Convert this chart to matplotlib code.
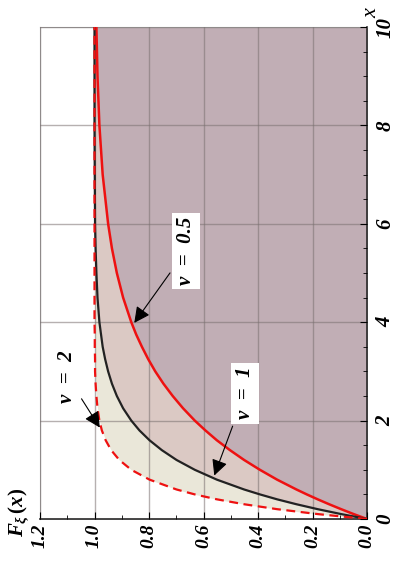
import numpy as np
import matplotlib
matplotlib.use("Agg")
import matplotlib.pyplot as plt
from matplotlib.ticker import MultipleLocator

plt.rcParams['font.family'] = ['Liberation Serif', 'DejaVu Serif']
plt.rcParams['mathtext.fontset'] = 'custom'
plt.rcParams['mathtext.it'] = 'Liberation Serif:italic:bold'
plt.rcParams['mathtext.rm'] = 'Liberation Serif:bold'

# x values and F(x) for nu = 0.5, 1, 2
x = [0, 0.1, 0.2, 0.3, 0.4, 0.5, 0.6, 0.8, 1.0, 1.2, 1.4, 1.6, 1.8, 2.0,
     2.25, 2.5, 2.75, 3.0, 3.25, 3.5, 3.75, 4.0, 4.5, 5.0, 5.5, 6.0, 7.0,
     8.0, 9.0, 10.0]
F_05 = [0, .049, .095, .139, .181, .221, .259, .330, .393, .451, .503, .551,
        .593, .632, .675, .713, .747, .777, .803, .826, .847, .865, .895,
        .918, .936, .950, .970, .982, .989, .993]
F_1 = [0, .095, .181, .259, .330, .393, .451, .551, .632, .699, .753, .798,
       .835, .865, .895, .918, .936, .950, .961, .970, .976, .982, .989,
       .993, .996, .998, .999, 1.0, 1.0, 1.0]
F_2 = [0, .181, .330, .451, .551, .632, .699, .798, .865, .909, .939, .959,
       .973, .982, .989, .993, .996, .998, .998, .999, .999, 1.0, 1.0, 1.0,
       1.0, 1.0, 1.0, 1.0, 1.0, 1.0]

fig = plt.figure(figsize=(3.94, 5.62), dpi=100)
ax = fig.add_axes([40/394, 43/562, 327/394, 492/562])

ax.fill_betweenx(x, 0, F_05, color='#C1AEB5', lw=0, zorder=0)
ax.fill_betweenx(x, F_05, F_1, color='#DBC9C4', lw=0, zorder=0)
ax.fill_betweenx(x, F_1, F_2, color='#EAE7D9', lw=0, zorder=0)

ax.grid(True, color='#7a7070', alpha=0.55, lw=1, zorder=1)
ax.set_axisbelow(False)

ax.plot(F_05, x, color='#ee1111', lw=1.8, zorder=3)
ax.plot(F_1, x, color='#222222', lw=1.6, zorder=3)
ax.plot(F_2, x, color='#ee1111', lw=1.6, ls=(0, (4, 2.5)), zorder=4)

ax.set_xlim(1.2, 0)
ax.set_ylim(0, 10)

ax.yaxis.tick_right()
ax.xaxis.set_major_locator(MultipleLocator(0.2))
ax.xaxis.set_minor_locator(MultipleLocator(0.1))
ax.yaxis.set_major_locator(MultipleLocator(2))
ax.yaxis.set_minor_locator(MultipleLocator(0.5))
ax.tick_params(which='both', direction='in', top=False, left=False, color='k')
ax.tick_params(which='major', length=5)
ax.tick_params(which='minor', length=3)
ax.set_xticks([0, 0.2, 0.4, 0.6, 0.8, 1.0, 1.2])
ax.set_xticklabels(['0.0', '0.2', '0.4', '0.6', '0.8', '1.0', '1.2'],
                   rotation=90, fontsize=14, fontweight='bold', fontstyle='italic')
ax.set_yticks([0, 2, 4, 6, 8, 10])
ax.set_yticklabels(['0', '2', '4', '6', '8', '10'], rotation=90, va='center',
                   fontsize=15, fontstyle='italic', fontweight='bold')
ax.tick_params(axis='x', pad=3)
ax.tick_params(axis='y', pad=6)

for s in ['left', 'top']:
    ax.spines[s].set_color('#aaaaaa')
for s in ['right', 'bottom']:
    ax.spines[s].set_color('#222222')
    ax.spines[s].set_linewidth(1.2)

arrow = dict(arrowstyle='-|>', color='k', lw=0.8, mutation_scale=24)
lab = dict(rotation=90, ha='center', va='center', fontsize=15,
           fontweight='bold', fontstyle='italic', zorder=6)
ax.annotate('ν  =  0.5', xy=(0.86, 3.94), xytext=(0.665, 5.45),
            bbox=dict(fc='white', ec='none', pad=3), arrowprops=arrow, **lab)
ax.annotate('ν  =  1', xy=(0.564, 0.83), xytext=(0.448, 2.56),
            bbox=dict(fc='white', ec='none', pad=3), arrowprops=arrow, **lab)
ax.annotate('ν  =  2', xy=(0.975, 1.81), xytext=(1.10, 2.9),
            arrowprops=arrow, **lab)

fig.text(372/394, 1 - 13/562, 'x', rotation=90, ha='center', va='center',
         fontsize=16, fontstyle='italic')
fig.text(19/394, 1 - 512/562, r'$F_{\xi}\,(x)$', rotation=90, ha='center',
         va='center', fontsize=15)

fig.savefig('out.png', dpi=100)
